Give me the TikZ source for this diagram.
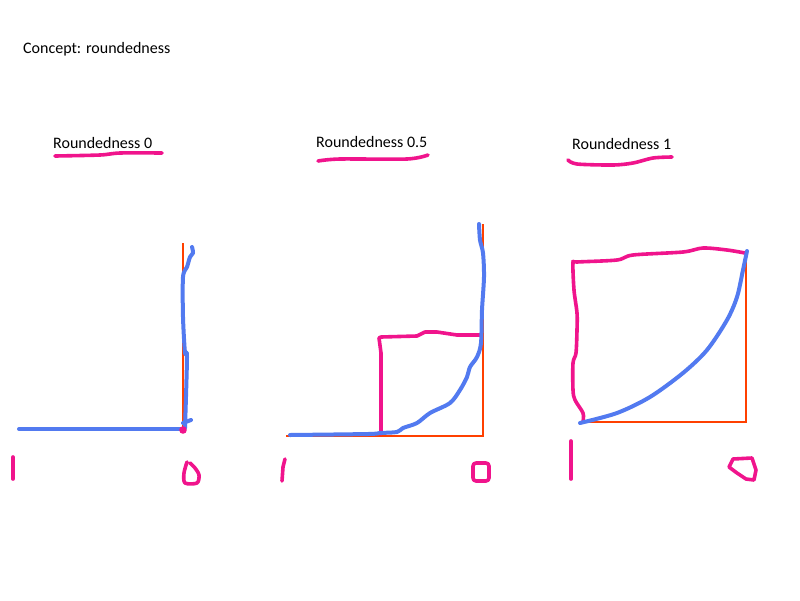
\documentclass[tikz,border=0pt]{standalone}
\usepackage{fontspec}
\setmainfont{Carlito}
\definecolor{penblue}{RGB}{82,122,240}
\definecolor{penpink}{RGB}{240,20,140}
\definecolor{penred}{RGB}{255,64,0}
\begin{document}
\begin{tikzpicture}[x=1pt,y=-1pt]
    \tikzset{
        caption/.style={anchor=base west,inner sep=0pt,font=\fontsize{16}{19}\selectfont},
        bluepen/.style={draw=penblue,line width=4pt,line cap=round,line join=round},
        pinkpen/.style={draw=penpink,line width=3.6pt,line cap=round,line join=round},
        redline/.style={draw=penred,line width=1.4pt}
    }
    \useasboundingbox[fill=white] (0,0) rectangle (800,600);

    % texts
    \node[caption] (title) at (23,53) {Concept: roundedness};
    \node[caption] (lblzero) at (53,148) {Roundedness 0};
    \node[caption] (lblhalf) at (316,147) {Roundedness 0.5};
    \node[caption] (lblone) at (572,149) {Roundedness 1};

    % underlines
    \draw[pinkpen] plot[smooth] coordinates {(55,156) (100,155) (120,153) (162,153)};
    \draw[pinkpen] plot[smooth] coordinates {(318,161) (340,159) (407,159) (428,155)};
    \draw[pinkpen] plot[smooth] coordinates {(568,160) (577,164) (613,165) (633,163) (653,158) (672,157)};

    % roundedness 0
    \draw[redline] (183,243) -- (183,429);
    \draw[bluepen] (19,429) -- (183,429);
    \draw[bluepen] plot[smooth] coordinates {(185,428) (187,357) (185,353) (183,317) (183,277)
        (187,267) (190,257) (193,253) (192,247)};
    \draw[bluepen] (183,423) -- (191,420);
    \fill[penpink] (183,430) circle (3.8pt);
    \draw[pinkpen] (13,457) -- (13,479);
    \draw[pinkpen] plot[smooth] coordinates {(187,462) (184,473) (185,483) (197,483) (199,475)
        (195,468) (190,463)};

    % roundedness 0.5
    \draw[redline] (286,436) -- (483,436) -- (483,224);
    \draw[pinkpen] (381,434) -- (381,353) -- (379,338) -- (381,337) -- (417,336)
        -- (425,332) -- (437,332) -- (457,335) -- (481,335);
    \draw[bluepen] plot[smooth] coordinates {(290,435) (368,434) (380,433) (397,432) (403,428)
        (417,423) (430,413) (450,403) (460,390) (467,377) (470,367) (477,357) (481,343)
        (482,310) (484,277) (483,253) (480,240) (479,224)};
    \draw[pinkpen] (285,459) -- (283,467) -- (282,481);
    \draw[pinkpen,rounded corners=3pt] (473,463) rectangle (489,481);

    % roundedness 1
    \draw[redline] (580,422) -- (746,422) -- (746,262);
    \draw[pinkpen] plot[smooth] coordinates {(583,422) (583,413) (575,400) (573,390) (573,363)
        (576,353) (577,330) (577,313) (574,290) (573,263) (577,262) (617,260) (633,255)
        (683,252) (703,248) (727,250) (745,253)};
    \draw[bluepen] plot[smooth] coordinates {(580,423) (617,413) (650,397) (683,373) (707,350)
        (727,320) (737,297) (743,270) (747,251)};
    \draw[pinkpen] (571,441) -- (571,479);
    \draw[pinkpen] (754,480) -- (756,470) -- (752,458) -- (733,459)
        -- (729,467) -- (737,473) -- (746,479) -- (754,480);
\end{tikzpicture}
\end{document}
